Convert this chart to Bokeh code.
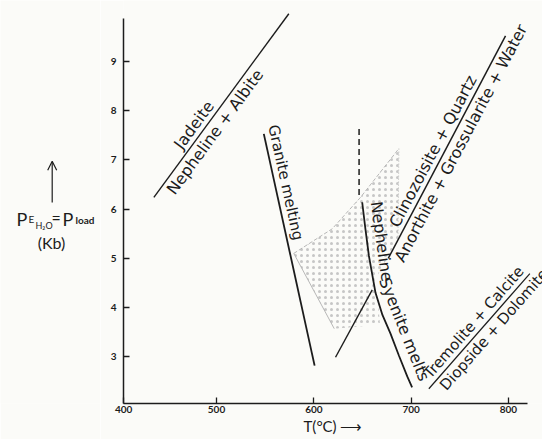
import numpy as np
from bokeh.plotting import figure
from bokeh.layouts import row
from bokeh.models import ColumnDataSource, Arrow, OpenHead, FixedTicker, Range1d
from bokeh.core.properties import value
from bokeh.embed import file_html
from bokeh.resources import INLINE

# ---------------- data ----------------
x_ticks = [500, 600, 700, 800]
y_ticks = [3, 4, 5, 6, 7, 8, 9]

jadeite_T = [435.6, 574.3]
jadeite_P = [6.24, 9.97]
granite_T = [548.6, 600.8]
granite_P = [7.53, 2.82]
neph_dash_T = [646.5, 646.5]
neph_dash_P = [7.63, 6.25]
neph_T = [649.7, 653.0, 656.6, 663.4, 670.5, 678.8, 687.5, 696.0, 701.0]
neph_P = [6.14, 5.60, 5.05, 4.30, 3.85, 3.47, 3.02, 2.60, 2.38]
short_T = [622.3, 660.0]
short_P = [2.99, 4.36]
clino_T = [676.5, 797.0]
clino_P = [5.00, 9.52]
trem_T = [718.2, 822.0]
trem_P = [2.35, 4.69]
field_top_T = [579.4, 618.9, 648.0, 687.4]
field_top_P = [5.10, 5.60, 6.24, 7.23]
field_right_T = [687.4, 686.5]
field_right_P = [7.23, 5.40]
field_left_T = [579.4, 621.0]
field_left_P = [5.10, 3.57]
field_T = [579.4, 618.9, 648.0, 687.4, 686.5, 664.0, 668.0, 621.0]
field_P = [5.10, 5.60, 6.24, 7.23, 5.40, 4.60, 3.65, 3.57]

# ---------------- geometry ----------------
W, H = 542, 439
LW = 100                    # width of the strip holding the y title
BL, BB = 123 - LW, 36
FW, FH = W - LW - BL, H - BB
X0, X1 = 404.4, 835.0
Y0, Y1 = 2.05, 10.24
KX = FW / (X1 - X0)
KY = FH / (Y1 - Y0)

INK = "#1c1c1c"
BG = "#fbfbf8"
LFONT = "DejaVu Sans"
AFONT = "Lato"


def along(Ts, Ps, t):
    T = Ts[0] + t * (Ts[1] - Ts[0])
    P = Ps[0] + t * (Ps[1] - Ps[0])
    ang = float(np.arctan2((Ps[1] - Ps[0]) * KY, (Ts[1] - Ts[0]) * KX))
    return T, P, ang


def on_curve(P, dp=0.45):
    Tr = np.interp(P, neph_P[::-1], neph_T[::-1])
    Ta = np.interp(P + dp, neph_P[::-1], neph_T[::-1])
    Tb = np.interp(P - dp, neph_P[::-1], neph_T[::-1])
    ang = float(np.arctan2(-2 * dp * KY, (Tb - Ta) * KX))
    return float(Tr), P, ang


def lift(pt, gap):
    T, P, a = pt
    return T - np.sin(a) * gap / KX, P + np.cos(a) * gap / KY, a


p = figure(width=W - LW, height=H, x_range=Range1d(X0, X1), y_range=Range1d(Y0, Y1),
           output_backend="svg", toolbar_location=None,
           min_border_left=BL, min_border_right=0, min_border_top=0, min_border_bottom=BB)
p.background_fill_color = BG
p.border_fill_color = BG
p.outline_line_color = None
p.grid.visible = False

for ax in (p.xaxis[0], p.yaxis[0]):
    ax.axis_line_color = INK
    ax.axis_line_width = 1.5
    ax.major_tick_line_color = INK
    ax.major_tick_line_width = 1.3
    ax.major_tick_in = 6
    ax.major_tick_out = 0
    ax.minor_tick_line_color = None
    ax.major_label_text_font = AFONT
    ax.major_label_text_font_size = "10px"
    ax.major_label_text_font_style = "bold"
    ax.major_label_text_color = INK

p.xaxis.ticker = FixedTicker(ticks=[X0 + 0.2] + x_ticks)
p.xaxis.major_label_overrides = {X0 + 0.2: "400"}
p.xaxis.bounds = (X0, 820)
p.xaxis.major_label_standoff = 2
p.xaxis.axis_label = "T(°C) ⟶"
p.xaxis.axis_label_text_font = AFONT
p.xaxis.axis_label_text_font_size = "15px"
p.xaxis.axis_label_text_font_style = "normal"
p.xaxis.axis_label_text_color = INK
p.xaxis.axis_label_standoff = 1
p.yaxis.ticker = FixedTicker(ticks=y_ticks)
p.yaxis.bounds = (Y0, 9.87)
p.yaxis.major_label_standoff = 7

# stippled field
p.patch(field_T, field_P, fill_color=None, line_color=None,
        hatch_pattern=".", hatch_scale=6, hatch_weight=0.8, hatch_color="#c6c6c6")
p.line(field_top_T, field_top_P, line_color="#b0b0b0", line_width=0.9, line_dash="4 2")
p.line(field_left_T, field_left_P, line_color="#b0b0b0", line_width=0.9)
p.line(field_right_T, field_right_P, line_color="#b0b0b0", line_width=0.9, line_dash="1 2")

# reaction / melting curves
for Ts, Ps, lw in [(jadeite_T, jadeite_P, 1.4), (granite_T, granite_P, 1.8),
                   (neph_T, neph_P, 1.8), (short_T, short_P, 1.4),
                   (clino_T, clino_P, 1.5), (trem_T, trem_P, 1.2)]:
    p.line(Ts, Ps, line_color=INK, line_width=lw)
p.line(neph_dash_T, neph_dash_P, line_color=INK, line_width=1.5, line_dash="6 4")

# labels along curves
above = [("Jadeite", lift(along(jadeite_T, jadeite_P, 0.36), 1), "16px"),
         ("Granite melting", lift(along(granite_T, granite_P, 0.22), 2), "15px"),
         ("Nepheline", lift(on_curve(5.3), 5), "16px"),
         ("Syenite melts", lift(on_curve(3.45), 5), "16px"),
         ("Clinozoisite + Quartz", lift(along(clino_T, clino_P, 0.46), 1), "16px"),
         ("Tremolite + Calcite", lift(along(trem_T, trem_P, 0.52), 1), "15px")]
below = [("Nepheline + Albite", lift(along(jadeite_T, jadeite_P, 0.39), -1), "16px"),
         ("Anorthite + Grossularite + Water", lift(along(clino_T, clino_P, 0.54), -1), "16px"),
         ("Diopside + Dolomite", lift(along(trem_T, trem_P, 0.57), -1), "15px")]


def text_source(items):
    return ColumnDataSource(dict(x=[a[1][0] for a in items], y=[a[1][1] for a in items],
                                 text=[a[0] for a in items], angle=[a[1][2] for a in items],
                                 size=[a[2] for a in items]))


p.text(x="x", y="y", text="text", angle="angle", source=text_source(above),
       text_font=value(LFONT), text_font_size="size", text_color=INK,
       text_align="center", text_baseline="bottom")
p.text(x="x", y="y", text="text", angle="angle", source=text_source(below),
       text_font=value(LFONT), text_font_size="size", text_color=INK,
       text_align="center", text_baseline="top")

# ---------------- strip with the y-axis title ----------------
q = figure(width=LW, height=H, x_range=Range1d(0, LW), y_range=Range1d(H, 0),
           output_backend="svg", toolbar_location=None, x_axis_type=None, y_axis_type=None,
           min_border=0)
q.background_fill_color = BG
q.border_fill_color = BG
q.outline_line_color = None
q.grid.visible = False

title_parts = [("P", 16, 238, "18px", "normal", "left", "alphabetic"),
               ("E", 28, 238, "10px", "normal", "left", "alphabetic"),
               ("H₂O", 35, 245, "9px", "normal", "left", "alphabetic"),
               ("=", 51, 236, "16px", "normal", "left", "alphabetic"),
               ("P", 62, 238, "18px", "normal", "left", "alphabetic"),
               ("load", 75, 239, "10px", "bold", "left", "alphabetic"),
               ("(Kb)", 51, 264, "16px", "normal", "center", "middle")]
for t, px, py, size, style, align, base in title_parts:
    q.text(x=[px], y=[py], text=[t], text_font=value(AFONT), text_font_size=size,
           text_font_style=style, text_align=align, text_baseline=base, text_color=INK)
q.add_layout(Arrow(end=OpenHead(size=9, line_width=1.2, line_color=INK),
                   x_start=51.7, y_start=220, x_end=51.7, y_end=175,
                   line_width=1.2, line_color=INK))

layout = row(q, p)
open("out.html", "w").write(file_html(layout, INLINE))
